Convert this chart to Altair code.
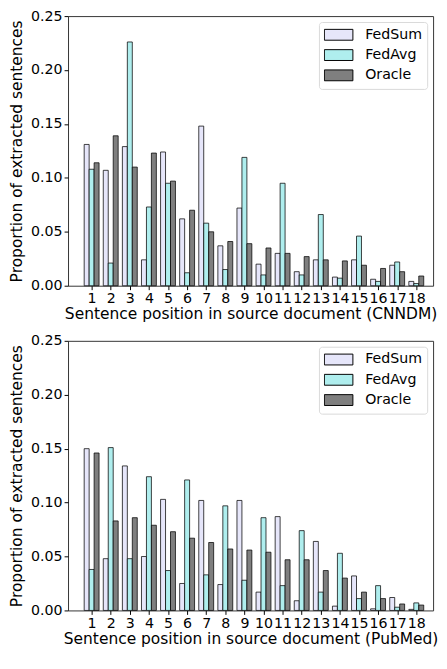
import altair as alt
import pandas as pd

positions = list(range(1, 19))
series = ["FedSum", "FedAvg", "Oracle"]
colors = ["#E6E6FA", "#AFEEEE", "#7F7F7F"]

cnndm_fedsum = [0.131, 0.107, 0.129, 0.024, 0.124, 0.062, 0.148, 0.037, 0.072,
                0.020, 0.030, 0.013, 0.024, 0.008, 0.024, 0.006, 0.019, 0.004]
cnndm_fedavg = [0.108, 0.021, 0.226, 0.073, 0.095, 0.012, 0.058, 0.015, 0.119,
                0.010, 0.095, 0.010, 0.066, 0.007, 0.046, 0.004, 0.022, 0.002]
cnndm_oracle = [0.114, 0.139, 0.110, 0.123, 0.097, 0.070, 0.050, 0.041, 0.039,
                0.035, 0.030, 0.027, 0.024, 0.023, 0.019, 0.016, 0.013, 0.009]

pubmed_fedsum = [0.150, 0.048, 0.134, 0.050, 0.103, 0.025, 0.102, 0.024, 0.102,
                 0.017, 0.087, 0.009, 0.064, 0.004, 0.032, 0.0015, 0.012, 0.001]
pubmed_fedavg = [0.038, 0.151, 0.048, 0.124, 0.037, 0.121, 0.033, 0.097, 0.028,
                 0.086, 0.023, 0.074, 0.017, 0.053, 0.011, 0.023, 0.003, 0.007]
pubmed_oracle = [0.146, 0.083, 0.086, 0.079, 0.073, 0.067, 0.063, 0.057, 0.056,
                 0.054, 0.047, 0.047, 0.037, 0.030, 0.017, 0.011, 0.006, 0.005]

y_ticks = [0.0, 0.05, 0.10, 0.15, 0.20, 0.25]
BW = 0.26
FONT = "DejaVu Sans"


def panel(vals, xtitle):
    rows = []
    for k, (s, v) in enumerate(zip(series, vals)):
        for p, val in zip(positions, v):
            rows.append({"pos": p, "series": s, "k": k, "value": val})
    df = pd.DataFrame(rows)
    return (
        alt.Chart(df)
        .transform_calculate(
            x0=f"datum.pos + (datum.k - 1) * {BW} - {BW / 2}",
            x1=f"datum.pos + (datum.k - 1) * {BW} + {BW / 2}",
        )
        .mark_bar(stroke="black", strokeWidth=1, strokeOpacity=0.75)
        .encode(
            x=alt.X(
                "x0:Q",
                scale=alt.Scale(domain=[-0.236, 18.88], nice=False, zero=False),
                axis=alt.Axis(values=positions, title=xtitle, format="d",
                              labelOverlap=False, labelFlush=False,
                              tickSize=4, labelPadding=2, titlePadding=2),
            ),
            x2="x1:Q",
            y=alt.Y(
                "value:Q",
                scale=alt.Scale(domain=[0, 0.25], nice=False),
                axis=alt.Axis(values=y_ticks, format=".2f",
                              title="Proportion of extracted sentences",
                              labelFlush=False, tickSize=4, labelPadding=2,
                              titlePadding=6),
            ),
            y2=alt.datum(0),
            color=alt.Color(
                "series:N",
                scale=alt.Scale(domain=series, range=colors),
                legend=alt.Legend(
                    title=None, orient="top-right", offset=6,
                    symbolType="M-1,-0.38L1,-0.38L1,0.38L-1,0.38Z",
                    symbolSize=841,
                    symbolStrokeColor="black", symbolStrokeWidth=1,
                    symbolOpacity=1, clipHeight=16, rowPadding=4.6,
                    padding=5, labelOffset=12, labelFontSize=14.4,
                    labelFont=FONT, labelColor="black",
                    fillColor="white", strokeColor="#d9d9d9",
                    cornerRadius=3, labelLimit=200,
                ),
            ),
        )
        .properties(width=371, height=274)
    )


top = panel([cnndm_fedsum, cnndm_fedavg, cnndm_oracle],
            "Sentence position in source document (CNNDM)")
bottom = panel([pubmed_fedsum, pubmed_fedavg, pubmed_oracle],
               "Sentence position in source document (PubMed)")

chart = (
    alt.vconcat(top, bottom, spacing=10,
                padding={"left": 0, "top": -6, "right": 0, "bottom": 0})
    .resolve_scale(color="independent")
    .resolve_legend(color="independent")
    .configure_view(stroke="#333333", strokeWidth=1)
    .configure_axis(
        labelFont=FONT, titleFont=FONT, labelFontSize=14.4, titleFontSize=15.7,
        titleFontWeight="normal", labelColor="black", titleColor="black",
        tickColor="black", grid=False, domain=False,
    )
)

chart.save("out.html", embed_options={"renderer": "svg", "actions": False})
